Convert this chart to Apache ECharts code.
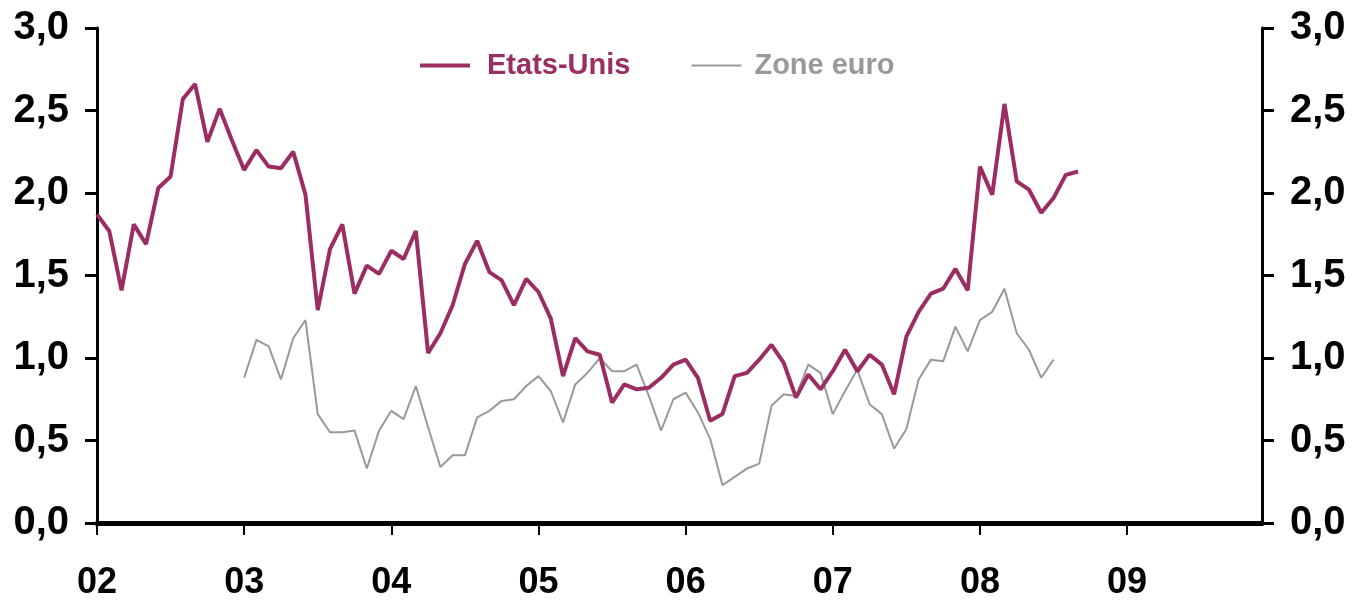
<!DOCTYPE html>
<html>
<head>
<meta charset="utf-8">
<script src="https://cdn.jsdelivr.net/npm/echarts@6/dist/echarts.min.js"></script>
<style>
  html, body { margin: 0; padding: 0; background: #fff; }
  #container { width: 1356px; height: 603px; }
</style>
</head>
<body>
<div id="container"></div>
<script>
// years shown on the x axis (one category per month, Jan 2002 .. Dec 2009)
var years = ['02', '03', '04', '05', '06', '07', '08', '09'];
var months = [];
for (var y = 0; y < years.length; y++) {
  for (var m = 1; m <= 12; m++) {
    months.push(years[y] + '-' + (m < 10 ? '0' + m : m));
  }
}

// Etats-Unis, from Jan 02 to Sep 08
var usValues = [
  1.87, 1.77, 1.41, 1.81, 1.69, 2.03, 2.10, 2.57, 2.66, 2.31, 2.51, 2.32,
  2.14, 2.26, 2.16, 2.15, 2.25, 1.99, 1.29, 1.66, 1.81, 1.39, 1.56, 1.51,
  1.65, 1.60, 1.77, 1.03, 1.15, 1.32, 1.57, 1.71, 1.52, 1.47, 1.32, 1.48,
  1.40, 1.24, 0.89, 1.12, 1.04, 1.02, 0.73, 0.84, 0.81, 0.82, 0.88, 0.96,
  0.99, 0.88, 0.62, 0.66, 0.89, 0.91, 0.99, 1.08, 0.97, 0.76, 0.90, 0.81,
  0.92, 1.05, 0.92, 1.02, 0.96, 0.78, 1.13, 1.28, 1.39, 1.42, 1.54, 1.41,
  2.16, 1.99, 2.54, 2.07, 2.02, 1.88, 1.97, 2.11, 2.13
];

// Zone euro, from Jan 03 to Jul 08
var euroStart = 12;
var euroValues = [
  0.88, 1.11, 1.07, 0.87, 1.12, 1.23, 0.66, 0.55, 0.55, 0.56, 0.33, 0.56,
  0.68, 0.63, 0.83, 0.58, 0.34, 0.41, 0.41, 0.64, 0.68, 0.74, 0.75, 0.83,
  0.89, 0.80, 0.61, 0.84, 0.91, 1.00, 0.92, 0.92, 0.96, 0.77, 0.56, 0.75,
  0.79, 0.67, 0.51, 0.23, 0.28, 0.33, 0.36, 0.71, 0.78, 0.77, 0.96, 0.91,
  0.66, 0.80, 0.93, 0.72, 0.66, 0.45, 0.57, 0.87, 0.99, 0.98, 1.19, 1.04,
  1.23, 1.28, 1.42, 1.15, 1.05, 0.88, 0.99
];

var purple = '#9b2d62';
var grey = '#999999';

var euroData = [];
for (var i = 0; i < euroValues.length; i++) {
  euroData.push([months[euroStart + i], euroValues[i]]);
}

var dom = document.getElementById('container');
var myChart = echarts.init(dom);

function commaLabel(v) {
  return v.toFixed(1).replace('.', ',');
}

var yAxisCommon = {
  type: 'value',
  min: 0,
  max: 3,
  interval: 0.5,
  splitLine: { show: false },
  axisLine: { show: true, lineStyle: { color: '#000', width: 3 } },
  axisTick: { show: true, length: 12, lineStyle: { color: '#000', width: 3 } },
  axisLabel: {
    formatter: commaLabel,
    color: '#000',
    fontFamily: 'Liberation Sans, Arial, sans-serif',
    fontWeight: 'bold',
    fontSize: 40,
    margin: 28
  }
};

var option = {
  animation: false,
  grid: { left: 97, right: 94, top: 28, bottom: 80, containLabel: false },
  legend: {
    left: 415,
    top: 46,
    itemWidth: 50,
    itemHeight: 20,
    itemGap: 61,
    textStyle: {
      fontFamily: 'Liberation Sans, Arial, sans-serif',
      fontWeight: 'bold',
      fontSize: 29
    },
    data: [
      { name: 'Etats-Unis', icon: 'path://M0,8 L50,8 L50,12 L0,12 Z', itemStyle: { color: purple },
        textStyle: { color: purple, padding: [0, 0, 0, 12] } },
      { name: 'Zone euro', icon: 'path://M0,9 L50,9 L50,11 L0,11 Z', itemStyle: { color: grey },
        textStyle: { color: grey, padding: [0, 0, 0, 8] } }
    ]
  },
  xAxis: {
    type: 'category',
    data: months,
    boundaryGap: false,
    axisLine: { lineStyle: { color: '#000', width: 5 } },
    axisTick: {
      length: 12,
      interval: function (index) { return index % 12 === 0; },
      lineStyle: { color: '#000', width: 2 }
    },
    axisLabel: {
      interval: function (index) { return index % 12 === 0; },
      formatter: function (v) { return v.substring(0, 2); },
      color: '#000',
      fontFamily: 'Liberation Sans, Arial, sans-serif',
      fontWeight: 'bold',
      fontSize: 36,
      margin: 42
    }
  },
  yAxis: [
    echarts.util.merge({ position: 'left' }, yAxisCommon, true),
    echarts.util.merge({ position: 'right' }, yAxisCommon, true)
  ],
  series: [
    {
      name: 'Etats-Unis',
      type: 'line',
      data: usValues,
      symbol: 'none',
      lineStyle: { color: purple, width: 4 },
      itemStyle: { color: purple },
      z: 3
    },
    {
      name: 'Zone euro',
      type: 'line',
      data: euroData,
      symbol: 'none',
      lineStyle: { color: grey, width: 2 },
      itemStyle: { color: grey },
      z: 2
    }
  ]
};

if (option && typeof option === 'object') {
  myChart.setOption(option, true);
}
</script>
</body>
</html>
